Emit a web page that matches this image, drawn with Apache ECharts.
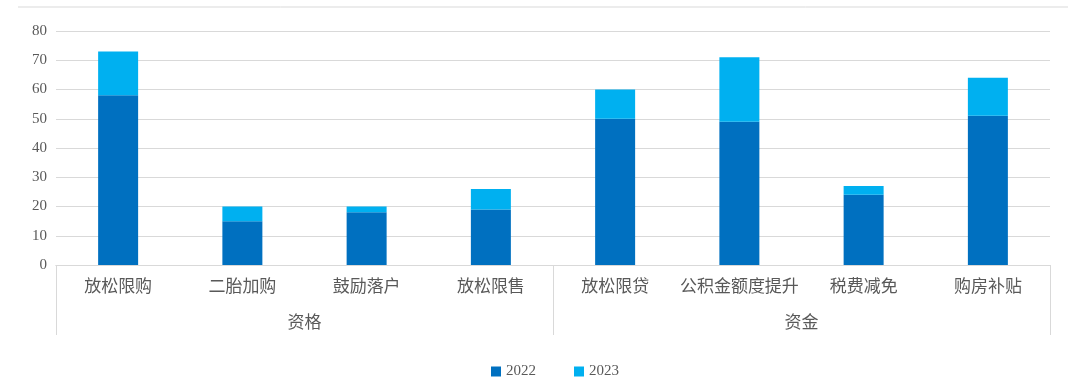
<!DOCTYPE html>
<html><head><meta charset="utf-8">
<script src="https://cdn.jsdelivr.net/npm/echarts@6/dist/echarts.min.js"></script>
<style>html,body{margin:0;padding:0;background:#fff}#c{width:1080px;height:386px}</style>
</head><body><div id="c"></div>
<script>
const categories = ['放松限购','二胎加购','鼓励落户','放松限售','放松限贷','公积金额度提升','税费减免','购房补贴'];
const groups = ['资格','资金'];
const seriesNames = ['2022','2023'];
const values2022 = [58,15,18,19,50,49,24,51];
const values2023 = [15,5,2,7,10,22,3,13];
const yTicks = {min:0,max:80,interval:10};

const FONT = '"Liberation Serif","Noto Sans CJK SC",serif';
const txt = '#595959';
const chart = echarts.init(document.getElementById('c'));
chart.setOption({
  animation:false,
  textStyle:{fontFamily:FONT},
  graphic:[{type:'line',shape:{x1:18,y1:7,x2:1068,y2:7},style:{stroke:'#d9d9d9',lineWidth:1}}],
  grid:{left:56,right:30,top:31,bottom:121},
  legend:{bottom:7,left:491,padding:0,icon:'rect',itemWidth:10,itemHeight:10,itemGap:38,
    textStyle:{color:txt,fontSize:15,fontFamily:FONT},data:seriesNames},
  xAxis:[
    {type:'category',data:categories,axisLine:{show:true,lineStyle:{color:'#d9d9d9'}},axisTick:{show:false},
     axisLabel:{color:txt,fontSize:17,margin:14,interval:0,fontFamily:FONT}},
    {type:'category',data:groups,position:'bottom',offset:0,
     axisLine:{show:true,lineStyle:{color:'#d9d9d9'}},
     axisTick:{show:true,length:70,lineStyle:{color:'#d9d9d9'}},
     axisLabel:{color:txt,fontSize:17,margin:50,fontFamily:FONT},splitLine:{show:false}}
  ],
  yAxis:{type:'value',min:yTicks.min,max:yTicks.max,interval:yTicks.interval,
    axisLine:{show:false},axisTick:{show:false},
    axisLabel:{color:txt,fontSize:15,margin:9,fontFamily:FONT},
    splitLine:{lineStyle:{color:'#d9d9d9',width:1}}},
  series:[
    {name:seriesNames[0],type:'bar',stack:'s',data:values2022,barWidth:40,itemStyle:{color:'#0070C0'},xAxisIndex:0},
    {name:seriesNames[1],type:'bar',stack:'s',data:values2023,barWidth:40,itemStyle:{color:'#00B0F0'},xAxisIndex:0}
  ]
});
</script></body></html>
